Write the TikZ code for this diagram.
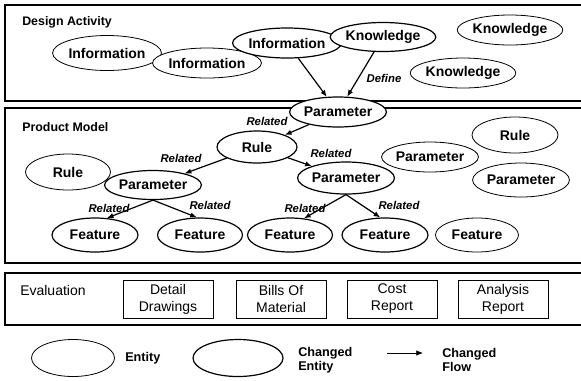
\documentclass[tikz,border=0pt]{standalone}
\usepackage{fontspec}
\setmainfont{Liberation Sans}
\usetikzlibrary{shapes.geometric,arrows.meta}

\tikzset{
  ent/.style={ellipse, draw, fill=white, line width=0.6pt, inner sep=0pt,
    font=\fontsize{10.5}{12}\selectfont\bfseries},
  chg/.style={ent, line width=0.9pt},
  sz/.style 2 args={minimum width=#1*0.75pt, minimum height=#2*0.75pt},
  flow/.style={-{Latex[length=5pt,width=4pt]}, line width=0.9pt},
  rel/.style={inner sep=0pt, font=\fontsize{8.5}{10}\selectfont\bfseries\itshape},
  panel/.style={line width=0.8pt},
  doc/.style={draw, line width=0.6pt, align=center, inner sep=0pt,
    font=\fontsize{10.5}{12.75}\selectfont,
    minimum width=67.5pt, minimum height=28.5pt},
  title/.style={anchor=west, inner sep=0pt, font=\fontsize{9.3}{11}\selectfont\bfseries},
  legend/.style={anchor=west, inner sep=0pt, align=left,
    font=\fontsize{9.5}{10.5}\selectfont\bfseries},
}

\begin{document}
\begin{tikzpicture}[x=0.75pt,y=-0.75pt]
\useasboundingbox (0,0) rectangle (581,380);

% panels (open on the right)
\draw[panel] (581,5) -- (5,5) -- (5,101) -- (581,101);
\draw[panel] (581,108) -- (5,108) -- (5,263) -- (581,263);
\draw[panel] (581,273) -- (5,273) -- (5,325) -- (581,325);

\node[title] (tda) at (22,22) {Design Activity};
\node[title] (tpm) at (22,127) {Product Model};
\node[title, font=\fontsize{10.5}{12}\selectfont] (tev) at (20,290) {Evaluation};

% design activity
\node[ent, sz={87}{35}] (inf1) at (107,53) {Information};
\node[ent, sz={89}{30}] (inf2) at (207,63) {Information};
\node[chg, sz={88}{30}] (inf3) at (287,43) {Information};
\node[chg, sz={86}{29}] (kn1) at (383,37) {Knowledge};
\node[ent, sz={85}{30}] (kn2) at (510,30) {Knowledge};
\node[ent, sz={87}{30}] (kn3) at (463,73) {Knowledge};
\node[chg, sz={85}{30}] (par0) at (338,112) {Parameter};

\draw[flow] (inf3) -- (par0);
\draw[flow] (kn1) -- (par0);
\node[rel] (ldef) at (384,78) {Define};

% product model
\node[chg, sz={80}{32}] (rule1) at (257,147) {Rule};
\node[ent, sz={85}{36}] (rule2) at (68,172) {Rule};
\node[chg, sz={87}{29}] (par1) at (153,185) {Parameter};
\node[chg, sz={88}{32}] (par2) at (346,178) {Parameter};
\node[ent, sz={86}{30}] (par3) at (430,157) {Parameter};
\node[ent, sz={86}{36}] (rule3) at (515,135) {Rule};
\node[ent, sz={87}{34}] (par4) at (521,180) {Parameter};
\node[chg, sz={86}{34}] (f1) at (95,235) {Feature};
\node[chg, sz={85}{34}] (f2) at (200,235) {Feature};
\node[chg, sz={85}{34}] (f3) at (290,235) {Feature};
\node[chg, sz={86}{34}] (f4) at (385,235) {Feature};
\node[ent, sz={83}{34}] (f5) at (477,235) {Feature};

\draw[flow] (par0) -- (rule1);
\draw[flow] (rule1) -- (par1);
\draw[flow] (rule1) -- (par2);
\draw[flow] (par1.south) -- (f1.55);
\draw[flow] (par1.south) -- (f2.100);
\draw[flow] (par2.south) -- (f3.50);
\draw[flow] (par2.south) -- (f4.105);

\node[rel] (lr1) at (267,121) {Related};
\node[rel] (lr2) at (181,158) {Related};
\node[rel] (lr3) at (331,153) {Related};
\node[rel] (lr4) at (109,208) {Related};
\node[rel] (lr5) at (210,205) {Related};
\node[rel] (lr6) at (305,208) {Related};
\node[rel] (lr7) at (399,205) {Related};

% evaluation
\node[doc] (d1) at (168,299) {Detail\\Drawings};
\node[doc] (d2) at (281,299) {Bills Of\\Material};
\node[doc] (d3) at (392,299) {Cost\\Report};
\node[doc] (d4) at (503,299) {Analysis\\Report};

% legend
\node[ent, sz={83}{37}] (lgE) at (73,358) {};
\node[legend] (lgEt) at (125,358) {Entity};
\node[chg, sz={90}{37}] (lgC) at (238,358) {};
\node[legend] (lgCt) at (298,360) {Changed\\Entity};
\coordinate (fa) at (387,353);
\coordinate (fb) at (423,353);
\draw[flow, line width=0.5pt] (fa) -- (fb);
\node[legend] (lgFt) at (442,360) {Changed\\Flow};
\end{tikzpicture}
\end{document}
